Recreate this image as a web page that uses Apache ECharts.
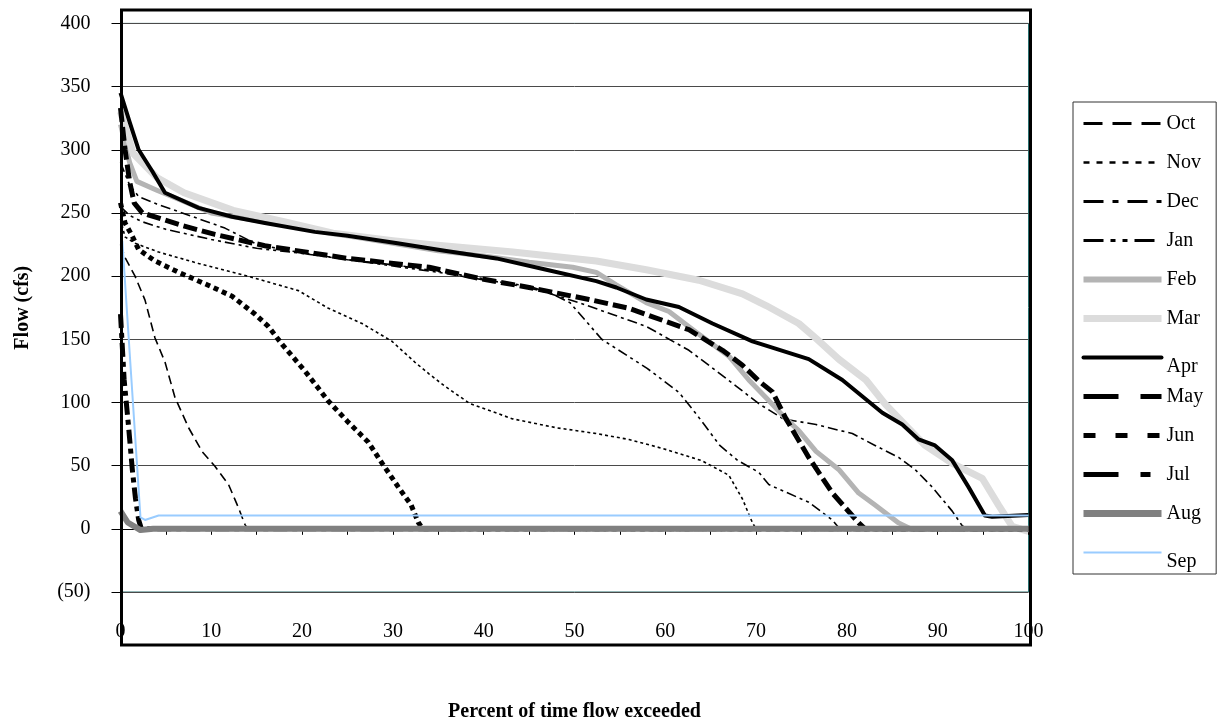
<!DOCTYPE html>
<html>
<head>
<meta charset="utf-8">
<script src="https://cdn.jsdelivr.net/npm/echarts@6/dist/echarts.min.js"></script>
<style>
html,body{margin:0;padding:0;background:#fff;}
#chart{width:1226px;height:727px;}
</style>
</head>
<body>
<div id="chart"></div>
<script>
// ---- data: [percent of time exceeded, flow cfs] ----
const months = ['Oct','Nov','Dec','Jan','Feb','Mar','Apr','May','Jun','Jul','Aug','Sep'];
const xTicks = [0,10,20,30,40,50,60,70,80,90,100];
const yTicks = [-50,0,50,100,150,200,250,300,350,400];

const octData = [[0,225],[0.55,214],[1.6,200],[2.7,181],[3.8,151],[4.9,132],[6,104],[7.5,80],[9,61],[10.4,49.5],[11.9,35],[13,16.5],[13.7,3.5],[14,0],[100,0]];
const novData = [[0,245],[0.5,231],[1.6,226],[4.2,219],[8.6,210],[14,200],[19.6,188.5],[22.9,174.5],[26.6,162.5],[29.9,148.4],[32.4,132],[34,122.5],[35.7,113],[38.5,99],[43.2,87],[48,80],[52.4,75.4],[56,70.7],[59.7,63.6],[64,54],[67,42.4],[68.5,23.6],[69.6,4.7],[70,0],[100,0]];
const decData = [[0,290],[1,272],[2,263],[4,257],[6.8,250],[11.5,238],[14.8,226],[17.8,221],[25,213],[30,209],[35.7,203],[40,198],[46,189],[50.5,179],[54.2,169.6],[57.9,160.2],[59.7,153],[62.6,141.3],[65.2,127.2],[67.8,113],[70.3,99],[73,87],[76.6,82.5],[80.6,75.4],[83.1,66],[85.7,56.5],[87.5,47],[89.4,33],[91.6,14],[92.7,2.4],[93.2,0],[100,0]];
const janData = [[0,255],[1,248],[2.4,243],[5,237],[10,229],[15,222],[20,218],[25,213],[30,208],[35,203],[40,197],[45,192],[47.5,186],[49.5,179],[53,150],[58,127],[61.5,108],[63.5,90],[66,66],[68,54],[70.3,44.7],[71.4,35],[75.8,21],[78.4,7],[79.2,0],[100,0]];
const febData = [[0,320],[1,290],[1.8,275],[4,268],[6,262],[10,250],[15,244],[20,238],[25,232],[30,226],[35,220],[40,216],[45,211],[49.8,207],[52.4,203],[54.6,193],[57.9,179],[60.4,172],[63.4,155.5],[67,136.6],[69.2,117.8],[71.1,103.7],[73.3,87],[74.7,77.7],[76.6,61.3],[79.1,47],[81.3,28.3],[83.1,18.8],[85.7,4.7],[87,0],[100,0]];
const marData = [[0,330],[1.4,297],[4,278],[7,266],[12.4,252],[18,243],[23.4,234],[30,228],[34,225],[43.2,219],[52.4,212],[57.9,205],[63.7,196.7],[68.5,186],[71.1,176.7],[74.7,162.5],[76.6,150.7],[79.1,134.3],[82.1,117.8],[84.2,98.9],[86.4,82.5],[88.6,66],[91.6,51.8],[94.9,40],[96.7,18.8],[98.2,2],[100,-2]];
const aprData = [[0,345],[1,322],[2,300],[3.5,283],[4.9,266],[8.6,254],[12.3,247],[15.9,242],[21.4,235],[25,232],[30.5,226],[35.7,220],[41.4,214],[46.9,205],[52.4,196],[54.6,191],[57.9,181.5],[61.5,175.5],[65.2,162.5],[69.6,148.4],[75.8,134.3],[79.5,117.8],[83.9,91.9],[86.1,82.5],[87.9,70.7],[89.7,66],[91.6,54.2],[93.4,33],[95.2,10.6],[96,9.5],[100,11]];
const mayData = [[0,333],[0.5,300],[1,275],[1.5,258],[2.4,250],[6.8,240],[10.4,233],[15.9,224],[25,214],[34,207],[39.6,198],[45,191],[51.6,181.5],[56,174.5],[59.7,165],[62.6,157.6],[66.3,141.3],[68.5,129.5],[70.3,117],[71.8,108.4],[73.3,87],[75.8,56.5],[78.4,28.3],[81.3,4.7],[82,0],[100,0]];
const junData = [[0,258],[0.5,242],[1.2,233],[2,221],[3.8,212],[6.4,203],[9.6,193],[12.3,184],[14.8,170],[16.3,160],[17.8,146],[20.3,125],[22.9,101],[25,85],[27.3,68.5],[28.8,52],[30.6,33],[32,19],[32.8,5],[33.3,0],[100,0]];
const julData = [[0,170],[0.4,118],[0.9,80],[1.3,47],[1.65,24],[2,7],[2.3,0],[100,0]];
const augData = [[0,14],[0.8,5],[2.2,-1],[3.6,0],[100,0]];
const sepData = [[0.2,228],[2.2,9],[2.7,7],[4.2,10.6],[100,10.6]];

const FONT = "'Liberation Serif','Times New Roman',serif";

const seriesStyles = {
  Oct:{color:'#000',width:1.6,type:[9,5]},
  Nov:{color:'#000',width:1.6,type:[3,3]},
  Dec:{color:'#000',width:1.6,type:[10,4,3,4]},
  Jan:{color:'#000',width:1.6,type:[10,4,3,4,3,4]},
  Feb:{color:'#b4b4b4',width:5,type:'solid'},
  Mar:{color:'#dcdcdc',width:7,type:'solid'},
  Apr:{color:'#000',width:4,type:'solid'},
  May:{color:'#000',width:5,type:[14,5]},
  Jun:{color:'#000',width:5,type:[5,4]},
  Jul:{color:'#000',width:5,type:[14,5,5,5]},
  Aug:{color:'#808080',width:6,type:'solid'},
  Sep:{color:'#99ccff',width:2,type:'solid'}
};
const legendStyles = {
  Oct:{width:3,type:[19,10]},
  Nov:{width:2.5,type:[6,7]},
  Dec:{width:3,type:[20,9,6,9]},
  Jan:{width:3,type:[20,7,5,7,5,7]},
  Feb:{width:6,type:'solid'},
  Mar:{width:7,type:'solid'},
  Apr:{width:4,type:'solid',cap:'round'},
  May:{width:5,type:[35,22]},
  Jun:{width:5,type:[12,20]},
  Jul:{width:5,type:[35,22,10,22]},
  Aug:{width:7,type:'solid'},
  Sep:{width:2,type:'solid'}
};
const dataByMonth = {Oct:octData,Nov:novData,Dec:decData,Jan:janData,Feb:febData,Mar:marData,Apr:aprData,May:mayData,Jun:junData,Jul:julData,Aug:augData,Sep:sepData};

const chart = echarts.init(document.getElementById('chart'), null, {renderer:'canvas'});

const series = months.map(m => ({
  name:m,
  type:'line',
  data:dataByMonth[m],
  symbol:'none',
  smooth:false,
  silent:true,
  lineStyle:{color:seriesStyles[m].color,width:seriesStyles[m].width,type:seriesStyles[m].type,cap:'butt',join:'round'},
  itemStyle:{color:seriesStyles[m].color}
}));

const option = {
  animation:false,
  backgroundColor:'#fff',
  grid:{left:120.5,right:197.5,top:23.4,bottom:66.2,show:true,borderColor:'#2a7070',borderWidth:1,backgroundColor:'transparent'},
  legend:{
    orient:'vertical',
    left:1073,top:102,
    padding:[2,13,2,7],
    itemWidth:78,itemHeight:48.75,itemGap:0,
    borderColor:'#333',borderWidth:1,
    selectedMode:false,
    itemStyle:{opacity:0,borderWidth:0},
    textStyle:{fontFamily:FONT,fontSize:20,color:'#000',lineHeight:19},
    formatter: n => (n==='Apr'||n==='Sep') ? '\n'+n : n,
    data: months.map(m => ({name:m, lineStyle:legendStyles[m]}))
  },
  xAxis:{
    type:'value',min:0,max:100,interval:10,
    axisLine:{show:true,onZero:true,lineStyle:{color:'#000',width:1}},
    axisTick:{show:true,length:6,lineStyle:{color:'#000'}},
    minorTick:{show:true,splitNumber:2,length:6,lineStyle:{color:'#000'}},
    axisLabel:{margin:30,fontFamily:FONT,fontSize:20,color:'#000',
      formatter: v => xTicks.includes(v) ? String(v) : ''},
    splitLine:{show:false},
    name:'Percent of time flow exceeded',
    nameLocation:'middle',nameGap:110,
    nameTextStyle:{fontFamily:FONT,fontSize:20,fontWeight:'bold',color:'#000'}
  },
  yAxis:{
    type:'value',min:-50,max:400,interval:50,
    axisLine:{show:true,onZero:false,lineStyle:{color:'#1c3434',width:2}},
    axisTick:{show:true,length:9,lineStyle:{color:'#000'}},
    axisLabel:{margin:30,fontFamily:FONT,fontSize:20,color:'#000',
      formatter: v => yTicks.includes(v) ? (v<0 ? '('+(-v)+')' : String(v)) : ''},
    splitLine:{show:true,lineStyle:{color:'#4a4a4a',width:1}},
    name:'Flow (cfs)',
    nameLocation:'middle',nameGap:88,nameRotate:90,
    nameTextStyle:{fontFamily:FONT,fontSize:20,fontWeight:'bold',color:'#000'}
  },
  graphic:[{
    type:'rect',z:100,silent:true,
    shape:{x:121.5,y:10,width:909,height:635},
    style:{fill:null,stroke:'#000',lineWidth:3}
  }],
  series:series
};
chart.setOption(option);
</script>
</body>
</html>
